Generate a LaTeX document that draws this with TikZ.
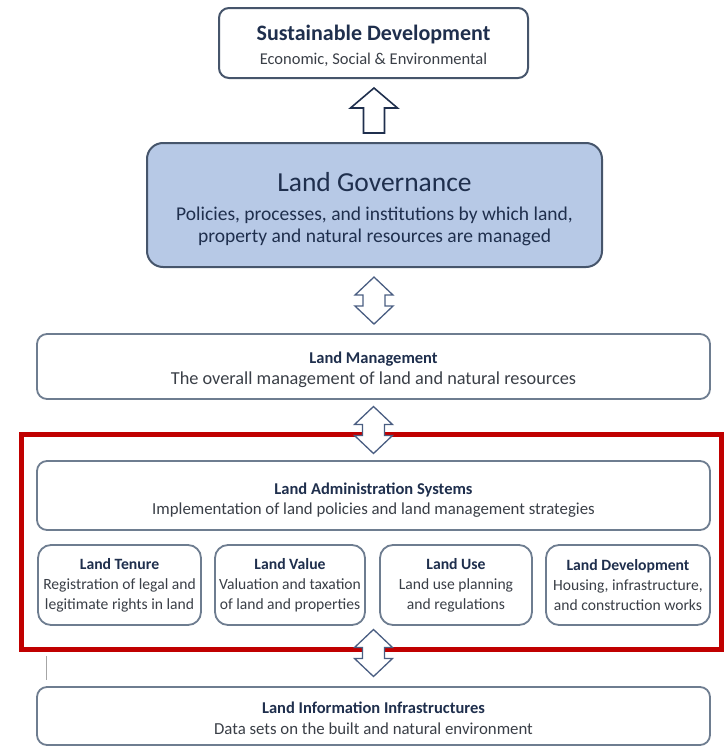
\documentclass[tikz,border=0pt]{standalone}
\usepackage{fontspec}
\setmainfont{Carlito}
\usetikzlibrary{calc}
\definecolor{navy}{HTML}{1F2F4D}
\definecolor{bodytext}{HTML}{3A3F47}
\definecolor{boxline}{HTML}{6E7D90}
\definecolor{darkline}{HTML}{46556B}
\definecolor{govfill}{HTML}{B7C9E6}
\definecolor{arrowline}{HTML}{4A5E82}
\definecolor{framered}{HTML}{C00000}
\newcommand{\hd}[1]{{\bfseries\color{navy}#1}}
\newcommand{\fs}[1]{\fontsize{#1}{#1}\selectfont}
% extra head room on a first line, which lowers a centred block of lines
\newcommand{\lowerby}[2]{\raisebox{0pt}[\dimexpr\height+#1\relax]{#2}}
\begin{document}
\begin{tikzpicture}[x=1pt,y=-1pt,
  box/.style={draw=boxline, line width=1.8pt, rounded corners=10pt, fill=white,
    inner sep=0pt, align=center, text=bodytext},
  smallbox/.style={box, rounded corners=13pt, minimum height=80pt,
    font=\fontsize{10}{20}\selectfont},
  widebox/.style={box, minimum width=673pt},
  arrowshape/.style={draw=arrowline, line width=1.3pt, fill=white, line join=miter},
  uparr/.pic={\draw[arrowshape, draw=navy, line width=1.6pt]
     (0,-22.5) -- (23.5,-2.5) -- (10.5,-2.5) -- (10.5,22.5) -- (-10.5,22.5)
     -- (-10.5,-2.5) -- (-23.5,-2.5) -- cycle;},
  dblarr/.pic={\draw[arrowshape]
     (0,-23.5) -- (19,-5.5) -- (11,-5.5) -- (11,5.5) -- (19,5.5) -- (0,23.5)
     -- (-19,5.5) -- (-11,5.5) -- (-11,-5.5) -- (-19,-5.5) -- cycle;}
]
\useasboundingbox (0,0) rectangle (724,747);

% Top goal
\node[box, draw=darkline, line width=2pt, minimum width=309pt, minimum height=70pt,
      font=\fontsize{10}{24}\selectfont]
  (sd) at (373.5,43)
  {\lowerby{5pt}{\fs{22}\hd{Sustainable Development}}\\
   \fs{16.5}Economic, Social \& Environmental};

% Governance layer
\node[box, draw=darkline, line width=2pt, fill=govfill, rounded corners=16pt,
      minimum width=455pt, minimum height=124pt, text=navy,
      font=\fontsize{10}{22}\selectfont]
  (lg) at (374.5,205)
  {\lowerby{8pt}{\fs{27.5}Land Governance}\\[7pt]
   \fs{19.5}Policies, processes, and institutions by which land,\\
   \fs{19.5}property and natural resources are managed};

% Management layer
\node[widebox, minimum height=65pt, font=\fontsize{10}{21}\selectfont] (lm) at (373.5,366.5)
  {\lowerby{6pt}{\fs{16.5}\hd{Land Management}}\\
   \fs{18.3}The overall management of land and natural resources};

% Administration layer
\node[widebox, minimum height=69pt, font=\fontsize{10}{20}\selectfont] (las) at (373.5,495.5)
  {\lowerby{10pt}{\fs{16.5}\hd{Land Administration Systems}}\\
   \fs{16.8}Implementation of land policies and land management strategies};

% Four functions
\node[smallbox, minimum width=163pt] (lt) at (119.5,585)
  {\fs{15.7}\hd{Land Tenure}\\
   \fs{15.6}Registration of legal and\\
   \fs{15.6}legitimate rights in land};
\node[smallbox, minimum width=150pt] (lv) at (290,585)
  {\fs{15.7}\hd{Land Value}\\
   \fs{15.6}Valuation and taxation\\
   \fs{15.6}of land and properties};
\node[smallbox, minimum width=152pt] (lu) at (456,585)
  {\fs{15.7}\hd{Land Use}\\
   \fs{15.6}Land use planning\\
   \fs{15.6}and regulations};
\node[smallbox, minimum width=164pt] (ldv) at (628,585)
  {\fs{15.7}\hd{Land Development}\\
   \fs{15.6}Housing, infrastructure,\\
   \fs{15.6}and construction works};

% Information layer
\node[widebox, minimum height=58pt, font=\fontsize{10}{21}\selectfont] (lii) at (373.5,716)
  {\lowerby{4pt}{\fs{16.5}\hd{Land Information Infrastructures}}\\
   \fs{16.8}Data sets on the built and natural environment};

% Highlight frame around the administration block
\draw[framered, line width=5pt] (21,434) rectangle (721,649);

% Block arrows between layers
\pic at ($(sd.south)!0.5!(lg.north)$) {uparr};
\pic at ($(lg.south)!0.5!(lm.north)$) {dblarr};
\pic at ($(lm.south)!0.5!(las.north)$) {dblarr};
\pic at ($(lii.north |- lu.south)!0.45!(lii.north)$) {dblarr};

% small tick mark left of the lower arrow
\draw[gray!70, line width=1pt] (46,656) -- (46,680);
\end{tikzpicture}
\end{document}
